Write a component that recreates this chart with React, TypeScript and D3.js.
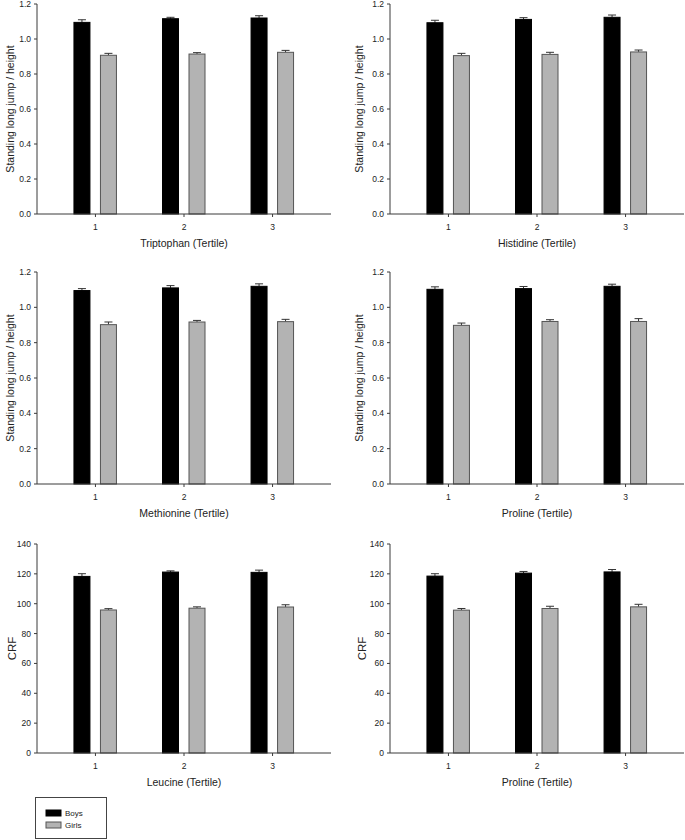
import React from "react";
import * as d3 from "d3";

const tertiles = [1, 2, 3];

const trypBoys = [1.095, 1.116, 1.12];
const trypBoysErr = [0.015, 0.008, 0.013];
const trypGirls = [0.907, 0.914, 0.924];
const trypGirlsErr = [0.011, 0.008, 0.011];

const histBoys = [1.093, 1.112, 1.124];
const histBoysErr = [0.014, 0.01, 0.013];
const histGirls = [0.905, 0.912, 0.926];
const histGirlsErr = [0.013, 0.012, 0.011];

const methBoys = [1.095, 1.11, 1.119];
const methBoysErr = [0.011, 0.013, 0.014];
const methGirls = [0.902, 0.917, 0.919];
const methGirlsErr = [0.015, 0.009, 0.013];

const prolBoys = [1.102, 1.106, 1.119];
const prolBoysErr = [0.014, 0.012, 0.012];
const prolGirls = [0.898, 0.92, 0.92];
const prolGirlsErr = [0.013, 0.01, 0.016];

const leuCrfBoys = [118.3, 121.2, 121.0];
const leuCrfBoysErr = [1.8, 0.8, 1.5];
const leuCrfGirls = [95.8, 97.0, 97.8];
const leuCrfGirlsErr = [0.9, 0.9, 1.5];

const prolCrfBoys = [118.5, 120.5, 121.3];
const prolCrfBoysErr = [1.6, 1.1, 1.6];
const prolCrfGirls = [95.7, 96.8, 97.9];
const prolCrfGirlsErr = [1.1, 1.5, 1.7];

const jumpTicks = [0, 0.2, 0.4, 0.6, 0.8, 1.0, 1.2];
const crfTicks = [0, 20, 40, 60, 80, 100, 120, 140];

const seriesNames = ["Boys", "Girls"];
const seriesFill = ["#000000", "#b3b3b3"];

const FONT = "'Liberation Sans', Arial, sans-serif";
const AXIS = "#3a3a3a";

type PanelProps = {
  x0: number;
  x1: number;
  yTop: number;
  yBot: number;
  yMax: number;
  ticks: number[];
  tickFmt: (v: number) => string;
  yLabel: string;
  yLabelX: number;
  yLabelSize: number;
  xLabel: string;
  boys: number[];
  boysErr: number[];
  girls: number[];
  girlsErr: number[];
};

function Panel(p: PanelProps) {
  const x = d3.scaleLinear().domain([0.34, 3.66]).range([p.x0, p.x1]);
  const y = d3.scaleLinear().domain([0, p.yMax]).range([p.yBot, p.yTop]);
  const barW = 16;
  const offsets = [-21.5, 5];
  const series = [
    { v: p.boys, e: p.boysErr },
    { v: p.girls, e: p.girlsErr },
  ];
  return (
    <g>
      {series.map((s, si) =>
        tertiles.map((t, i) => {
          const bx = x(t) + offsets[si];
          const top = y(s.v[i]);
          const cap = y(s.v[i] + s.e[i]);
          const cx = bx + barW / 2;
          return (
            <g key={`${si}-${i}`}>
              <line x1={cx} x2={cx} y1={top} y2={cap} stroke="#333" strokeWidth={1} />
              <line x1={cx - 4} x2={cx + 4} y1={cap} y2={cap} stroke="#333" strokeWidth={1} />
              <rect
                x={bx}
                y={top}
                width={barW}
                height={p.yBot - top}
                fill={seriesFill[si]}
                stroke={si === 0 ? "#000" : "#555"}
                strokeWidth={1}
              />
            </g>
          );
        })
      )}
      <line x1={p.x0} x2={p.x0} y1={p.yTop} y2={p.yBot} stroke={AXIS} strokeWidth={1} />
      {p.ticks.map((t) => (
        <g key={t}>
          <line x1={p.x0 - 3} x2={p.x0} y1={y(t)} y2={y(t)} stroke={AXIS} strokeWidth={1} />
          <text
            x={p.x0 - 6}
            y={y(t)}
            dy="0.35em"
            textAnchor="end"
            fontSize={8.5}
            fontFamily={FONT}
            fill="#222"
          >
            {p.tickFmt(t)}
          </text>
        </g>
      ))}
      <line x1={p.x0} x2={p.x1} y1={p.yBot} y2={p.yBot} stroke={AXIS} strokeWidth={1} />
      {tertiles.map((t) => (
        <g key={t}>
          <line x1={x(t)} x2={x(t)} y1={p.yBot} y2={p.yBot + 3} stroke={AXIS} strokeWidth={1} />
          <text
            x={x(t)}
            y={p.yBot + 13}
            dy="0.35em"
            textAnchor="middle"
            fontSize={8.5}
            fontFamily={FONT}
            fill="#222"
          >
            {t}
          </text>
        </g>
      ))}
      <text
        x={(p.x0 + p.x1) / 2}
        y={p.yBot + 29}
        dy="0.35em"
        textAnchor="middle"
        fontSize={10.5}
        fontFamily={FONT}
        fill="#222"
      >
        {p.xLabel}
      </text>
      <text
        transform={`translate(${p.yLabelX},${(p.yTop + p.yBot) / 2}) rotate(-90)`}
        dy="0.35em"
        textAnchor="middle"
        fontSize={p.yLabelSize}
        fontFamily={FONT}
        fill="#222"
      >
        {p.yLabel}
      </text>
    </g>
  );
}

export default function App() {
  const fmt1 = d3.format(".1f");
  const fmt0 = d3.format("d");
  const left = { x0: 37, x1: 331 };
  const right = { x0: 390, x1: 684 };
  const rows = [
    { yTop: 4, yBot: 214 },
    { yTop: 272, yBot: 484 },
    { yTop: 544, yBot: 753 },
  ];
  const jumpLabel = "Standing long jump / height";
  return (
    <svg
      width={685}
      height={840}
      style={{ position: "absolute", left: 0, top: 0, background: "#fff" }}
    >
      <rect width={685} height={840} fill="#fff" />
      <Panel {...left} {...rows[0]} yMax={1.2} ticks={jumpTicks} tickFmt={fmt1}
        yLabel={jumpLabel} yLabelX={10} yLabelSize={10.5} xLabel="Triptophan (Tertile)"
        boys={trypBoys} boysErr={trypBoysErr} girls={trypGirls} girlsErr={trypGirlsErr} />
      <Panel {...right} {...rows[0]} yMax={1.2} ticks={jumpTicks} tickFmt={fmt1}
        yLabel={jumpLabel} yLabelX={359} yLabelSize={10.5} xLabel="Histidine (Tertile)"
        boys={histBoys} boysErr={histBoysErr} girls={histGirls} girlsErr={histGirlsErr} />
      <Panel {...left} {...rows[1]} yMax={1.2} ticks={jumpTicks} tickFmt={fmt1}
        yLabel={jumpLabel} yLabelX={10} yLabelSize={10.5} xLabel="Methionine (Tertile)"
        boys={methBoys} boysErr={methBoysErr} girls={methGirls} girlsErr={methGirlsErr} />
      <Panel {...right} {...rows[1]} yMax={1.2} ticks={jumpTicks} tickFmt={fmt1}
        yLabel={jumpLabel} yLabelX={359} yLabelSize={10.5} xLabel="Proline (Tertile)"
        boys={prolBoys} boysErr={prolBoysErr} girls={prolGirls} girlsErr={prolGirlsErr} />
      <Panel {...left} {...rows[2]} yMax={140} ticks={crfTicks} tickFmt={fmt0}
        yLabel="CRF" yLabelX={12} yLabelSize={11.5} xLabel="Leucine (Tertile)"
        boys={leuCrfBoys} boysErr={leuCrfBoysErr} girls={leuCrfGirls} girlsErr={leuCrfGirlsErr} />
      <Panel {...right} {...rows[2]} yMax={140} ticks={crfTicks} tickFmt={fmt0}
        yLabel="CRF" yLabelX={362} yLabelSize={11.5} xLabel="Proline (Tertile)"
        boys={prolCrfBoys} boysErr={prolCrfBoysErr} girls={prolCrfGirls} girlsErr={prolCrfGirlsErr} />
      <g>
        <rect x={35.5} y={797.5} width={71} height={41} fill="#fff" stroke="#444" strokeWidth={1} />
        {seriesNames.map((n, i) => (
          <g key={n}>
            <rect x={46} y={810 + i * 12} width={15} height={6} fill={seriesFill[i]}
              stroke={i === 0 ? "#000" : "#555"} strokeWidth={1} />
            <text x={65} y={813 + i * 12} dy="0.35em" fontSize={8} fontFamily={FONT} fill="#222">
              {n}
            </text>
          </g>
        ))}
      </g>
    </svg>
  );
}
